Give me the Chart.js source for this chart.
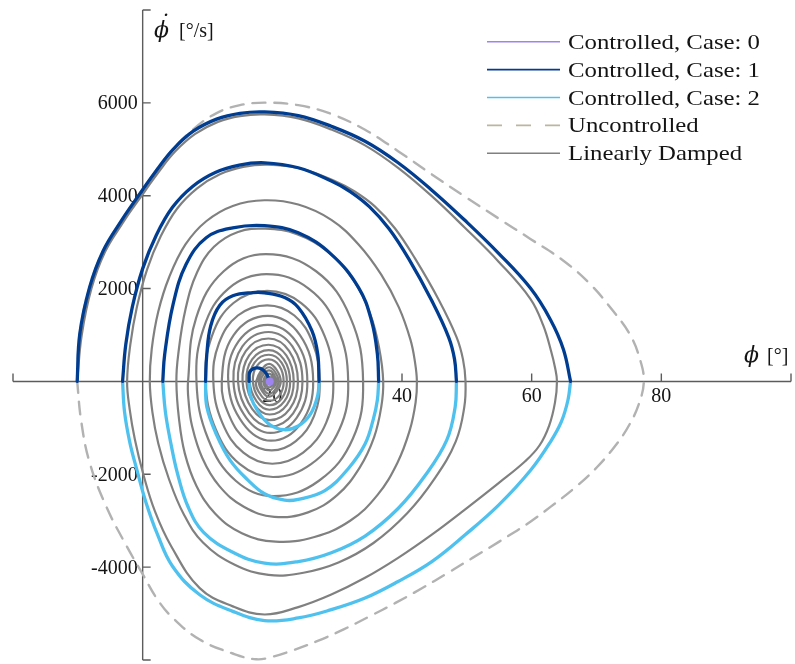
<!DOCTYPE html>
<html>
<head>
<meta charset="utf-8">
<script src="https://cdn.jsdelivr.net/npm/chart.js@4.4.0/dist/chart.umd.min.js"></script>
<style>
  html, body { margin: 0; padding: 0; background: #ffffff; }
  #wrap { width: 795px; height: 664px; position: relative; }
</style>
</head>
<body>
<div id="wrap"><canvas id="phase"></canvas></div>
<script>
// Phase portrait: roll angle phi [deg] against roll rate phi-dot [deg/s]

// Axis ticks
const xTickValues = [-20, 0, 20, 40, 60, 80, 100];
const xTickLabels = ['', '', '20', '40', '60', '80', ''];
const yTickValues = [-6000, -4000, -2000, 0, 2000, 4000, 6000, 8000];
const yTickLabels = ['', '-4000', '-2000', '', '2000', '4000', '6000', ''];

// Controlled trajectory, case 0 (settled at the trim point)
const case0Points = [[19.6, 0]];

// Controlled trajectory, case 1 (arcs with positive roll rate)
const case1Arcs = [
  [[-10.1, 0], [-9.7, 1020], [-8.2, 2020], [-6.1, 2810], [-3.3, 3459], [-1.5, 3830], [0, 4130], [2.1, 4540],
   [4.7, 5000], [7.8, 5390], [11.4, 5650], [15.0, 5775], [18.8, 5805], [24.0, 5725], [29.1, 5495],
   [34.3, 5173], [39.4, 4710], [44.6, 4120], [49.7, 3470], [54.9, 2760], [59.8, 2010], [62.9, 1330],
   [64.9, 690], [66.0, 0]],
  [[-3.1, 0], [-2.6, 800], [-1.6, 1600], [0, 2430], [2.1, 3150], [4.6, 3750], [7.7, 4200], [11.2, 4500],
   [14.9, 4660], [18.8, 4709], [24.0, 4602], [29.1, 4316], [32.0, 4090], [35.0, 3760], [38.0, 3290],
   [41.0, 2650], [44.6, 1736], [47.2, 950], [48.1, 480], [48.4, 0]],
  [[3.1, 0], [3.4, 587], [4.7, 1665], [6.7, 2522], [9.8, 3094], [13.9, 3308], [18.8, 3355], [24.0, 3201],
   [29.1, 2737], [33.3, 2022], [35.3, 1308], [36.2, 594], [36.4, 0]],
  [[9.7, 0], [9.9, 600], [10.5, 1200], [11.9, 1640], [13.9, 1844], [17.0, 1915], [18.8, 1910], [21.9, 1808],
   [24.0, 1593], [26.1, 1093], [27.0, 593], [27.2, 0]],
  [[16.4, 0], [16.5, 201], [17.3, 287], [18.3, 272], [19.1, 165], [19.4, 57], [19.5, 0]]
];

// Controlled trajectory, case 2 (arcs with negative roll rate)
const case2Arcs = [
  [[66.0, 0], [65.6, -400], [64.6, -860], [62.9, -1300], [59.8, -1920], [54.9, -2665], [49.7, -3308],
   [44.6, -3880], [39.4, -4309], [34.3, -4666], [29.1, -4916], [24.0, -5095], [18.8, -5150], [13.9, -4952],
   [8.8, -4594], [4.6, -3980], [2.3, -3300], [0.5, -2600], [-0.9, -1900], [-2.0, -1300], [-2.8, -650], [-3.1, 0]],
  [[48.4, 0], [48.2, -551], [46.9, -1265], [43.6, -2022], [39.4, -2737], [34.3, -3330], [29.1, -3690],
   [24.0, -3880], [18.8, -3915], [13.9, -3680], [9.4, -3250], [7.0, -2700], [5.4, -2000], [4.3, -1300],
   [3.5, -650], [3.1, 0]],
  [[36.4, 0], [36.2, -400], [35.6, -800], [34.3, -1350], [31.7, -1880], [28.1, -2350], [24.0, -2540],
   [21.9, -2557], [18.8, -2420], [16.2, -2120], [13.5, -1700], [11.4, -1150], [9.9, -550], [9.7, 0]],
  [[27.2, 0], [27.0, -300], [25.9, -700], [24.0, -960], [21.8, -1040], [19.6, -930], [17.8, -650],
   [16.6, -300], [16.4, 0]]
];

// Uncontrolled limit cycle
const uncontrolled = [
  [-10.1, 0], [-9.7, 1020], [-8.2, 2020], [-6.1, 2810], [-3.3, 3459], [0, 4130], [3.7, 4840], [7.8, 5430],
  [11.4, 5780], [15.0, 5950], [18.8, 6005], [24.0, 5950], [29.1, 5760], [34.3, 5420], [39.4, 4960],
  [44.6, 4460], [49.7, 3980], [54.9, 3510], [59.8, 3070], [64.9, 2600], [69.0, 2100], [72.6, 1510],
  [75.2, 1000], [76.7, 480], [77.3, 0],
  [76.5, -500], [75.0, -950], [73.2, -1330], [70.1, -1843], [66.5, -2308], [62.9, -2701], [59.8, -3022],
  [55.0, -3450], [51.0, -3790], [47.0, -4130], [43.0, -4460], [39.0, -4770], [35.0, -5060], [31.0, -5340],
  [27.0, -5590], [23.0, -5800], [20.0, -5930], [17.5, -5985], [13.9, -5860], [8.8, -5560], [4.7, -5100],
  [2.3, -4700], [0, -4150], [-2.5, -3540], [-5.6, -2700], [-8.2, -1736], [-9.5, -836], [-10.1, 0]
];

// Linearly damped response, spiralling in to the trim point
const damped = [
  // turn 1
  [-10.1, 0], [-9.4, 1000], [-7.9, 2000], [-5.8, 2790], [-3.0, 3430], [-1.2, 3800], [0.3, 4090], [2.4, 4500],
  [5.0, 4950], [8.1, 5330], [11.6, 5590], [15.0, 5715], [18.8, 5750], [24.0, 5665], [29.1, 5425],
  [34.3, 5085], [39.4, 4600], [44.6, 3990], [49.7, 3310], [54.9, 2580], [59.8, 1780], [61.8, 1200],
  [63.0, 650], [63.6, 300], [63.9, 0],
  [63.6, -450], [62.7, -950], [61.2, -1380], [59.0, -1720], [54.9, -2190], [49.7, -2760], [44.6, -3300],
  [39.4, -3800], [34.3, -4230], [29.1, -4590], [24.0, -4860], [18.8, -5020], [13.9, -4845], [8.8, -4452],
  [4.4, -3550], [1.9, -2800], [0.1, -2000], [-1.2, -1250], [-2.0, -600], [-2.4, 0],
  // turn 2
  [-1.9, 800], [-0.9, 1600], [0.7, 2420], [2.8, 3130], [5.3, 3720], [8.4, 4160], [11.9, 4460], [15.5, 4620],
  [19.3, 4670], [24.5, 4580], [29.7, 4310], [32.7, 4090], [35.8, 3770], [38.9, 3300], [42.0, 2650],
  [45.7, 1750], [48.4, 960], [49.4, 480], [49.8, 0],
  [49.6, -560], [48.3, -1290], [45.0, -2100], [40.8, -2840], [35.6, -3480], [30.2, -3900], [24.8, -4120],
  [19.4, -4166], [14.2, -3950], [9.3, -3470], [6.3, -2850], [4.0, -2080], [2.4, -1330], [1.5, -660], [1.1, 0],
  // turn 3
  [1.4, 700], [2.4, 1500], [4.1, 2250], [6.6, 2950], [9.8, 3450], [13.9, 3780], [18.8, 3902], [24.0, 3810],
  [29.1, 3480], [33.3, 2950], [36.8, 2300], [39.5, 1600], [41.3, 900], [42.0, 420], [42.3, 0],
  [42.1, -450], [41.2, -1050], [39.3, -1750], [36.2, -2450], [32.0, -3000], [26.5, -3350], [20.5, -3452],
  [15.3, -3270], [11.2, -2850], [8.3, -2250], [6.5, -1550], [5.6, -800], [5.2, 0],
  // turn 4
  [5.5, 600], [6.6, 1550], [8.4, 2350], [11.0, 2900], [14.7, 3220], [18.9, 3290], [23.8, 3170], [28.5, 2800],
  [32.5, 2180], [35.1, 1450], [36.5, 700], [37.1, 0],
  [36.8, -550], [35.7, -1200], [33.5, -1850], [30.0, -2450], [25.5, -2820], [20.3, -2916], [15.6, -2700],
  [11.8, -2250], [9.2, -1650], [7.6, -950], [7.1, -450], [7.0, 0],
  // turns 5 to 8
  [8.25, 1370], [12.5, 2373], [19.0, 2740], [26.75, 2373], [32.06, 1370], [34.0, 0],
  [32.41, -1235], [27.19, -2139], [20.2, -2470], [14.35, -2139], [10.09, -1235], [8.3, 0],
  [9.42, 1155], [13.23, 2000], [19.1, 2310], [25.6, 2000], [30.07, 1155], [31.7, 0],
  [30.36, -1029], [25.97, -1782], [20.1, -2058], [14.99, -1782], [11.27, -1029], [9.7, 0],
  [10.68, 975], [14.01, 1689], [19.2, 1950], [24.45, 1689], [28.07, 975], [29.4, 0],
  [28.31, -887], [24.75, -1535], [20.0, -1773], [15.54, -1535], [12.28, -887], [10.9, 0],
  [11.76, 820], [14.68, 1420], [19.2, 1640], [23.4, 1420], [26.25, 820], [27.3, 0],
  [26.44, -743], [23.63, -1287], [19.9, -1486], [16.14, -1287], [13.37, -743], [12.2, 0],
  // turns 9 to 16
  [14.03, 997], [19.3, 1410], [24.26, 997], [26.3, 0],
  [24.4, -903], [19.8, -1277], [15.47, -903], [13.2, 0],
  [14.78, 863], [19.3, 1220], [23.63, 863], [25.4, 0],
  [23.75, -785], [19.7, -1110], [15.98, -785], [14.0, 0],
  [15.38, 753], [19.4, 1065], [23.1, 753], [24.65, 0],
  [23.21, -686], [19.7, -970], [16.43, -686], [14.7, 0],
  [15.9, 654], [19.4, 925], [22.61, 654], [23.95, 0],
  [22.7, -590], [19.6, -834], [16.88, -590], [15.4, 0],
  [16.43, 559], [19.4, 790], [22.16, 559], [23.3, 0],
  [22.24, -503], [19.6, -712], [17.26, -503], [16.0, 0],
  [16.88, 477], [19.45, 675], [21.77, 477], [22.75, 0],
  [21.84, -431], [19.55, -610], [17.58, -431], [16.5, 0],
  [17.25, 407], [19.45, 575], [21.42, 407], [22.25, 0],
  [21.48, -362], [19.55, -512], [17.9, -362], [17.0, 0],
  [17.63, 336], [19.45, 475], [21.07, 336], [21.75, 0],
  [21.12, -293], [19.55, -415], [18.22, -293], [17.5, 0],
  // innermost turns
  [19.5, 380], [21.3, 0], [19.5, -330], [17.9, 0],
  [19.5, 305], [20.95, 0], [19.5, -268], [18.2, 0],
  [19.5, 240], [20.6, 0], [19.5, -195], [18.6, 0],
  [19.5, 170], [20.3, 0], [19.5, -130], [18.9, 0],
  [19.5, 100], [20.1, 0], [19.5, -70], [19.2, 0]
];

// Colours
const COLORS = {
  case0: '#9d84f0',
  case1: '#003d91',
  case2: '#4fc1ee',
  uncontrolled: '#b2b2b2',
  uncontrolledKey: '#bab69f',
  damped: '#808080',
  axis: '#5c5c5c',
  text: '#141414'
};

const toPoints = list => list.map(([x, y]) => ({ x, y }));
const joinArcs = arcs => arcs.flatMap((arc, i) => (i ? [{ x: null, y: null }] : []).concat(toPoints(arc)));

const SERIF = '"Liberation Serif", "Times New Roman", serif';
const MATH = 'italic 22px "DejaVu Serif", serif';

// Axes crossing at the origin, ticks pointing inward, axis titles and key
const crossedAxes = {
  id: 'crossedAxes',
  beforeDatasetsDraw(chart) {
    const { ctx, scales: { x, y } } = chart;
    const x0 = x.getPixelForValue(0);
    const y0 = y.getPixelForValue(0);
    ctx.save();
    ctx.strokeStyle = COLORS.axis;
    ctx.lineWidth = 1.4;
    ctx.beginPath();
    ctx.moveTo(x.getPixelForValue(xTickValues[0]), y0);
    ctx.lineTo(x.getPixelForValue(xTickValues[xTickValues.length - 1]), y0);
    xTickValues.forEach(v => {
      const px = x.getPixelForValue(v);
      ctx.moveTo(px, y0);
      ctx.lineTo(px, y0 - 8);
    });
    ctx.moveTo(x0, y.getPixelForValue(yTickValues[0]));
    ctx.lineTo(x0, y.getPixelForValue(yTickValues[yTickValues.length - 1]));
    yTickValues.forEach(v => {
      const py = y.getPixelForValue(v);
      ctx.moveTo(x0, py);
      ctx.lineTo(x0 + 8, py);
    });
    ctx.stroke();

    ctx.fillStyle = COLORS.text;
    ctx.font = '20px ' + SERIF;
    ctx.textBaseline = 'alphabetic';
    ctx.textAlign = 'center';
    xTickLabels.forEach((t, i) => {
      if (t) ctx.fillText(t, x.getPixelForValue(xTickValues[i]), y0 + 20.5);
    });
    ctx.textAlign = 'right';
    yTickLabels.forEach((t, i) => {
      if (t) ctx.fillText(t, x0 - 5, y.getPixelForValue(yTickValues[i]) + 6.5);
    });

    // axis titles: phi-dot [deg/s] at the top of the vertical axis, phi [deg] at the right end
    ctx.textAlign = 'left';
    ctx.font = MATH;
    ctx.fillText('\u03D5', 154, 37);
    ctx.fillText('\u03D5', 744, 362);
    ctx.textAlign = 'center';
    ctx.fillText('\u02D9', 164, 31);
    ctx.textAlign = 'left';
    ctx.font = '20px ' + SERIF;
    ctx.fillText('[\u00B0/s]', 179, 37);
    ctx.fillText('[\u00B0]', 767, 362);
    ctx.restore();
  },
  afterDraw(chart) {
    const ctx = chart.ctx;
    const keyColors = [COLORS.case0, COLORS.case1, COLORS.case2, COLORS.uncontrolledKey, COLORS.damped];
    const keyDash = [[], [], [], [15, 14], []];
    ctx.save();
    ctx.font = '21px ' + SERIF;
    const sx = 192 / ctx.measureText(chart.data.datasets[0].label).width;
    chart.data.datasets.forEach((ds, i) => {
      const yy = 41.7 + i * 27.9;
      ctx.beginPath();
      ctx.setLineDash(keyDash[i]);
      ctx.strokeStyle = keyColors[i];
      ctx.lineWidth = 1.6;
      ctx.moveTo(487, yy);
      ctx.lineTo(560, yy);
      ctx.stroke();
      ctx.setLineDash([]);
      ctx.save();
      ctx.translate(568, yy + 7);
      ctx.scale(sx, 1);
      ctx.fillStyle = COLORS.text;
      ctx.textAlign = 'left';
      ctx.textBaseline = 'alphabetic';
      ctx.fillText(ds.label, 0, 0);
      ctx.restore();
    });
    ctx.restore();
  }
};

new Chart(document.getElementById('phase'), {
  type: 'line',
  data: {
    datasets: [
      {
        label: 'Controlled, Case: 0',
        data: toPoints(case0Points),
        showLine: false,
        borderColor: COLORS.case0,
        backgroundColor: COLORS.case0,
        pointRadius: 4,
        pointBorderWidth: 0
      },
      {
        label: 'Controlled, Case: 1',
        data: joinArcs(case1Arcs),
        borderColor: COLORS.case1,
        borderWidth: 3.3,
        tension: 0.4
      },
      {
        label: 'Controlled, Case: 2',
        data: joinArcs(case2Arcs),
        borderColor: COLORS.case2,
        borderWidth: 3.3,
        tension: 0.4
      },
      {
        label: 'Uncontrolled',
        data: toPoints(uncontrolled),
        borderColor: COLORS.uncontrolled,
        borderWidth: 2.4,
        borderDash: [13, 9],
        tension: 0.4
      },
      {
        label: 'Linearly Damped',
        data: toPoints(damped),
        borderColor: COLORS.damped,
        borderWidth: 2.2,
        tension: 0.4
      }
    ]
  },
  options: {
    responsive: true,
    maintainAspectRatio: false,
    animation: false,
    events: [],
    layout: { padding: { left: 13, right: 4, top: 10, bottom: 2 } },
    scales: {
      x: { type: 'linear', min: -20, max: 100, display: false },
      y: { type: 'linear', min: -6000, max: 8000, display: false }
    },
    elements: {
      point: { radius: 0, hoverRadius: 0 },
      line: { borderCapStyle: 'round', borderJoinStyle: 'round', fill: false }
    },
    datasets: { line: { clip: false, spanGaps: false } },
    plugins: { legend: { display: false }, tooltip: { enabled: false } }
  },
  plugins: [crossedAxes]
});
</script>
</body>
</html>
